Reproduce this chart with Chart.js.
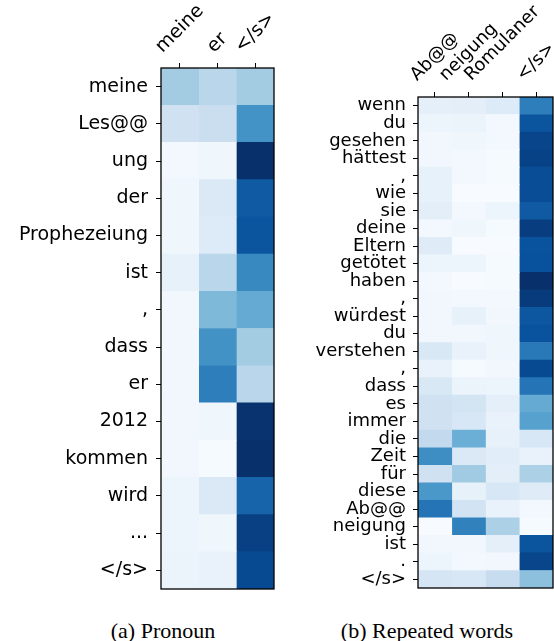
<!DOCTYPE html>
<html>
<head>
<meta charset="utf-8">
<script src="https://cdn.jsdelivr.net/npm/chart.js@4.4.1/dist/chart.umd.min.js"></script>
<style>
  html, body { margin: 0; padding: 0; background: #fff; }
  body { width: 554px; height: 641px; position: relative; overflow: hidden; }
  .box { position: absolute; top: 0; height: 600px; }
  .cap { position: absolute; top: 620px; width: 300px; text-align: center;
         font-family: "Liberation Serif", "Times New Roman", serif; font-size: 22px;
         line-height: 22px; color: #000; white-space: nowrap; }
</style>
</head>
<body>
<div class="box" style="left:0;width:290px;"><canvas id="c1"></canvas></div>
<div class="box" style="left:290px;width:264px;"><canvas id="c2"></canvas></div>
<div class="cap" style="left:13px;">(a) Pronoun</div>
<div class="cap" style="left:277px;">(b) Repeated words</div>
<script>
// ---------- (a) Pronoun ----------
const pronounRows = ["meine", "Les@@", "ung", "der", "Prophezeiung", "ist", ",", "dass", "er", "2012", "kommen", "wird", "...", "</s>"];
const pronounCols = ["meine", "er", "</s>"];
const pronounMeine = [0.36, 0.20, 0.02, 0.04, 0.04, 0.08, 0.03, 0.03, 0.03, 0.03, 0.03, 0.05, 0.05, 0.06];
const pronounEr    = [0.29, 0.23, 0.04, 0.14, 0.13, 0.29, 0.45, 0.625, 0.70, 0.04, 0.01, 0.14, 0.04, 0.07];
const pronounEos   = [0.36, 0.62, 1.00, 0.84, 0.86, 0.66, 0.52, 0.36, 0.29, 0.99, 1.00, 0.80, 0.94, 0.90];

// ---------- (b) Repeated words ----------
const repeatRows = ["wenn", "du", "gesehen", "hättest", ",", "wie", "sie", "deine", "Eltern", "getötet", "haben", ",", "würdest", "du", "verstehen", ",", "dass", "es", "immer", "die", "Zeit", "für", "diese", "Ab@@", "neigung", "ist", ".", "</s>"];
const repeatCols = ["Ab@@", "neigung", "Romulaner", "</s>"];
const repeatAb        = [0.09, 0.05, 0.03, 0.03, 0.08, 0.08, 0.10, 0.02, 0.12, 0.05, 0.02, 0.03, 0.03, 0.03, 0.15, 0.07, 0.15, 0.20, 0.20, 0.26, 0.64, 0.20, 0.60, 0.74, 0.00, 0.03, 0.05, 0.17];
const repeatNeigung   = [0.10, 0.06, 0.04, 0.02, 0.02, 0.00, 0.02, 0.04, 0.00, 0.05, 0.00, 0.02, 0.08, 0.03, 0.07, 0.01, 0.06, 0.18, 0.16, 0.50, 0.14, 0.37, 0.08, 0.19, 0.69, 0.03, 0.02, 0.16];
const repeatRomulaner = [0.13, 0.02, 0.02, 0.01, 0.01, 0.00, 0.05, 0.01, 0.00, 0.01, 0.01, 0.02, 0.03, 0.04, 0.04, 0.03, 0.05, 0.09, 0.07, 0.08, 0.11, 0.10, 0.16, 0.07, 0.33, 0.09, 0.03, 0.24];
const repeatEos       = [0.70, 0.86, 0.92, 0.93, 0.89, 0.89, 0.84, 0.95, 0.87, 0.875, 1.00, 0.96, 0.85, 0.87, 0.72, 0.90, 0.74, 0.52, 0.56, 0.16, 0.07, 0.33, 0.12, 0.02, 0.01, 0.86, 0.92, 0.42];

// matplotlib "Blues" colormap anchors
const BLUES = [[247,251,255],[222,235,247],[198,219,239],[158,202,225],[107,174,214],[66,146,198],[33,113,181],[8,81,156],[8,48,107]];
function blues(v) {
  v = Math.max(0, Math.min(1, v));
  const p = v * (BLUES.length - 1);
  const i = Math.min(Math.floor(p), BLUES.length - 2);
  const t = p - i;
  const a = BLUES[i], b = BLUES[i + 1];
  const c = a.map((x, k) => Math.round(x + (b[k] - x) * t));
  return `rgb(${c[0]},${c[1]},${c[2]})`;
}

const framePlugin = {
  id: 'frame',
  afterDatasetsDraw(chart) {
    const a = chart.chartArea, ctx = chart.ctx;
    ctx.save();
    ctx.strokeStyle = '#000';
    ctx.lineWidth = 1.3;
    ctx.strokeRect(a.left, a.top, a.right - a.left, a.bottom - a.top);
    ctx.restore();
  }
};

// rotated (45°) column labels, centred over each tick like matplotlib
const colLabelPlugin = {
  id: 'colLabels',
  afterDraw(chart, args, opts) {
    const sc = chart.scales.x, ctx = chart.ctx, a = chart.chartArea;
    const fs = opts.size;
    ctx.save();
    ctx.font = `${fs}px "DejaVu Sans", sans-serif`;
    ctx.fillStyle = '#000';
    ctx.textAlign = 'center';
    ctx.textBaseline = 'middle';
    opts.labels.forEach((lab, i) => {
      const x = sc.getPixelForTick(i);
      const w = ctx.measureText(lab).width;
      const h = fs * 0.78;
      const half = (w + h) * Math.SQRT1_2 / 2;
      const cy = a.top - opts.tick - opts.gap - half;
      ctx.save();
      ctx.translate(x, cy);
      ctx.rotate(-Math.PI / 4);
      ctx.fillText(lab, 0, 0);
      ctx.restore();
    });
    ctx.restore();
  }
};

function heatmap(id, rows, cols, columns, cfg) {
  const datasets = columns.map((vals, c) => ({
    label: cols[c],
    data: rows.map(() => 1),
    backgroundColor: vals.map(blues),
    borderWidth: 0,
    barPercentage: 1,
    categoryPercentage: 1
  }));
  return new Chart(document.getElementById(id), {
    type: 'bar',
    data: { labels: rows, datasets },
    plugins: [framePlugin, colLabelPlugin],
    options: {
      indexAxis: 'y',
      responsive: true,
      maintainAspectRatio: false,
      animation: false,
      events: [],
      layout: { padding: { left: 0, top: 0, right: cfg.padRight, bottom: cfg.padBottom } },
      plugins: {
        legend: { display: false },
        tooltip: { enabled: false },
        title: { display: false },
        colLabels: { labels: cols, size: cfg.colFont, tick: cfg.tick, gap: cfg.gap }
      },
      scales: {
        x: {
          type: 'linear',
          position: 'top',
          stacked: true,
          min: 0,
          max: cols.length,
          afterBuildTicks(s) { s.ticks = cols.map((_, i) => ({ value: i + 0.5 })); },
          afterFit(s) { s.height = cfg.top; s.paddingLeft = 0; s.paddingRight = 0; s.paddingTop = 0; s.paddingBottom = 0; },
          ticks: { display: false },
          grid: { display: true, drawOnChartArea: false, drawTicks: true, tickLength: cfg.tick, tickColor: '#000', tickWidth: 1 },
          border: { display: false }
        },
        y: {
          type: 'category',
          stacked: true,
          offset: true,
          afterFit(s) { s.width = cfg.left; s.paddingLeft = 0; s.paddingRight = 0; s.paddingTop = 0; s.paddingBottom = 0; },
          ticks: { autoSkip: false, padding: cfg.pad, color: '#000', font: { family: '"DejaVu Sans", sans-serif', size: cfg.rowFont } },
          grid: { display: true, offset: false, drawOnChartArea: false, drawTicks: true, tickLength: cfg.tick, tickColor: '#000', tickWidth: 1 },
          border: { display: false }
        }
      }
    }
  });
}

heatmap('c1', pronounRows, pronounCols, [pronounMeine, pronounEr, pronounEos],
  { left: 161, top: 68, padRight: 16, padBottom: 11, tick: 5, pad: 8, rowFont: 19, colFont: 19, gap: 8 });
heatmap('c2', repeatRows, repeatCols, [repeatAb, repeatNeigung, repeatRomulaner, repeatEos],
  { left: 128, top: 97, padRight: 1, padBottom: 12, tick: 5, pad: 7, rowFont: 18, colFont: 18, gap: 9 });
</script>
</body>
</html>
